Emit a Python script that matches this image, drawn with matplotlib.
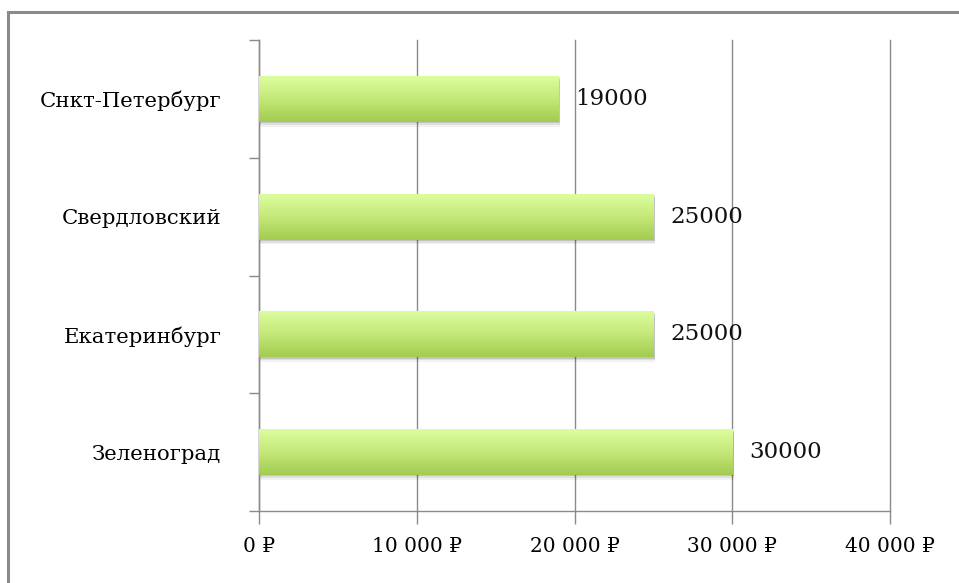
import numpy as np
import matplotlib
matplotlib.use('Agg')
import matplotlib.pyplot as plt
from matplotlib.colors import LinearSegmentedColormap
from matplotlib.patches import Rectangle

# data (top to bottom as shown)
cities = ['Снкт-Петербург', 'Свердловский', 'Екатеринбург', 'Зеленоград']
values = [19000, 25000, 25000, 30000]
xticks = [0, 10000, 20000, 30000, 40000]
xtick_labels = ['0 ₽', '10 000 ₽', '20 000 ₽', '30 000 ₽', '40 000 ₽']

W, H = 959, 583
fig = plt.figure(figsize=(W / 100, H / 100), dpi=100)
fam = ['DejaVu Serif', 'DejaVu Sans']

# outer frame (only left and top visible in the crop)
fig.patches.append(Rectangle((8 / W, -0.1), 1.2, 1 - 12 / H + 0.1, transform=fig.transFigure,
                             fill=False, edgecolor='#8a8a8a', linewidth=2.2))

ax = fig.add_axes([259 / W, 1 - 511 / H, (890 - 259) / W, (511 - 40) / H])

grad = LinearSegmentedColormap.from_list('g', ['#a2cc50', '#c4e878', '#dcfd9e'])
img = np.linspace(0, 1, 64).reshape(-1, 1)
bar_h = 0.39
ypos = np.arange(len(cities))

for y, v in zip(ypos, values):
    # soft shadow under the bar
    for k, a in enumerate([0.12, 0.08, 0.05]):
        off = 0.012 + k * 0.014
        ax.add_patch(Rectangle((0, y - bar_h / 2 + off), v * 1.004, bar_h,
                               facecolor='black', alpha=a, edgecolor='none', zorder=2))
    ax.imshow(img[::-1], cmap=grad, aspect='auto', zorder=3,
              extent=[0, v, y + bar_h / 2, y - bar_h / 2], interpolation='bicubic')
    ax.annotate(str(v), (v, y), xytext=(12, 0), textcoords='offset points',
                va='center', ha='left', fontsize=16.5, family=fam, color='#111111')

ax.set_xlim(0, 40000)
ax.set_ylim(len(cities) - 0.5, -0.5)

ax.set_xticks(xticks)
ax.set_xticklabels(xtick_labels, family=fam, fontsize=14.5)
ax.set_yticks(ypos)
ax.set_yticklabels(cities, family=fam, fontsize=15.3)
ax.set_yticks(np.arange(len(cities) + 1) - 0.5, minor=True)

ax.tick_params(axis='y', which='major', length=0, pad=27)
ax.tick_params(axis='y', which='minor', length=7.5, color='#8a8a8a', width=1)
ax.tick_params(axis='x', length=9, color='#8a8a8a', width=1, pad=10)

ax.grid(axis='x', color='#8a8a8a', linewidth=1, zorder=1)
for gl in ax.get_xgridlines():
    gl.set_clip_on(False)
ax.set_axisbelow(True)
for s in ['top', 'right']:
    ax.spines[s].set_visible(False)
for s in ['left', 'bottom']:
    ax.spines[s].set_color('#8a8a8a')
    ax.spines[s].set_linewidth(1)

fig.savefig('out.png', dpi=100)
